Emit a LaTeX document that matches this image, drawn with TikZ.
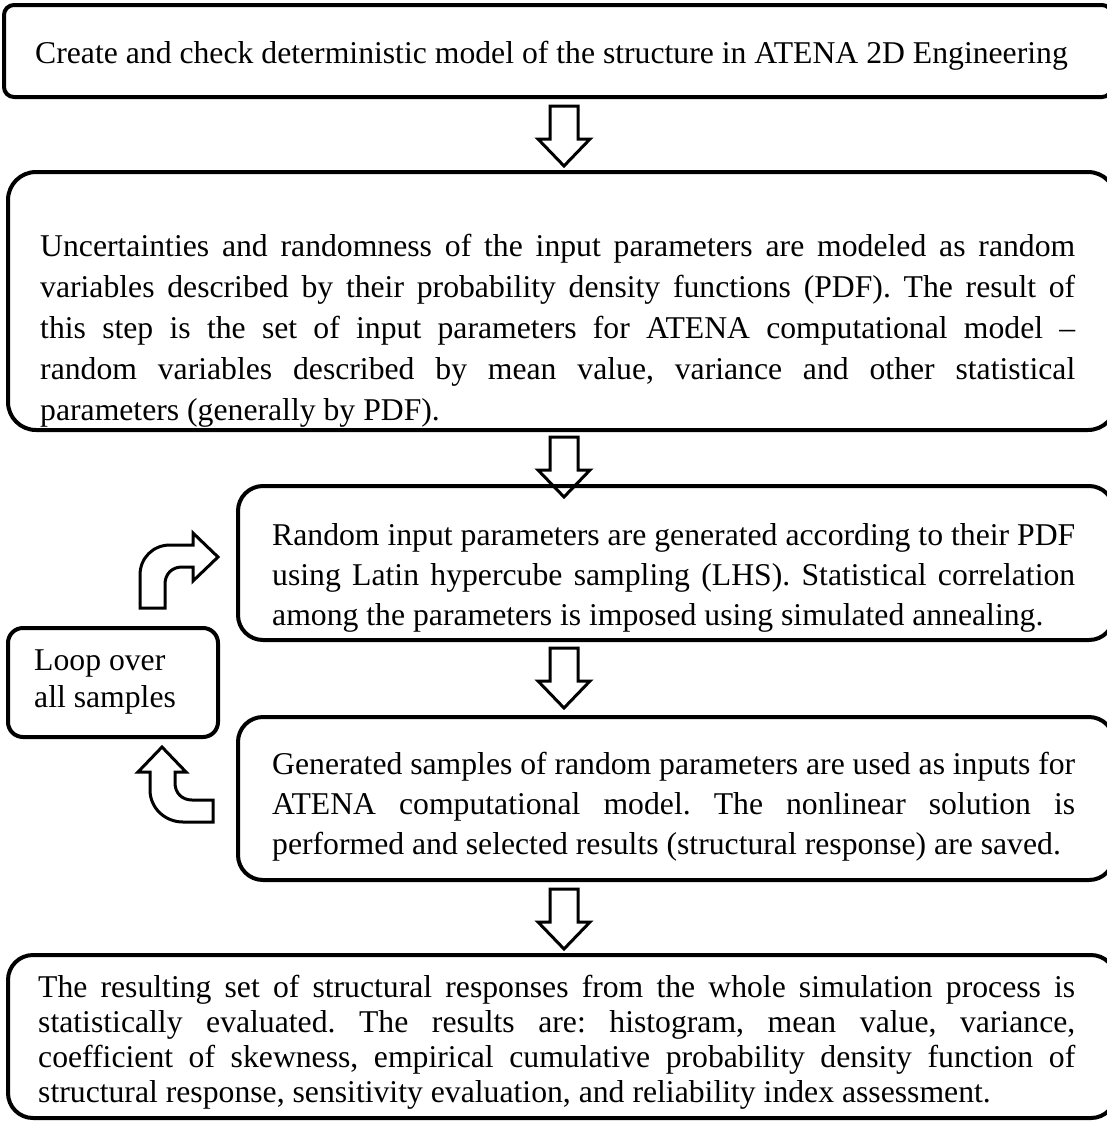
\documentclass[tikz,border=0pt]{standalone}
\usepackage{fontspec}
\setmainfont{Liberation Serif}
\frenchspacing
\tikzset{
  box/.style={line width=4pt, rounded corners=25pt},
  blockarrow/.style={line width=3pt, line join=miter},
  boxtext/.style={anchor=north west, inner sep=0pt, align=justify,
    font=\fontsize{31.7}{41}\selectfont},
  downarrow/.pic={
    \draw[blockarrow] (-14,0) -- (-14,33) -- (-26,33) -- (0,60) -- (26,33)
      -- (14,33) -- (14,0) -- cycle;
  }
}

\begin{document}
\begin{tikzpicture}[x=1pt,y=-1pt]
  \useasboundingbox (0,0) rectangle (1107,1122);
  % steps of the procedure
  \draw[box, rounded corners=10pt] (4,5) rectangle (1112,97);
  \node[boxtext, anchor=base west] (model) at (35,63)
    {Create and check deterministic model of the structure in ATENA 2D Engineering};
  \pic at (564,106) {downarrow};
  \draw[box, rounded corners=28pt] (8,172) rectangle (1116,430);
  \node[boxtext, text width=1035] (input) at (40,234)
    {Uncertainties and randomness of the input parameters are modeled as random\linebreak
     variables described by their probability density functions (PDF). The result of\linebreak
     this step is the set of input parameters for ATENA computational model --\linebreak
     random variables described by mean value, variance and other statistical\linebreak
     parameters (generally by PDF).};
  \pic at (564,437) {downarrow};
  \draw[box] (238,486) rectangle (1114,640);
  \node[boxtext, text width=803, font=\fontsize{31.7}{40}\selectfont] (lhs) at (272,523)
    {Random input parameters are generated according to their PDF\linebreak
     using Latin hypercube sampling (LHS). Statistical correlation\linebreak
     among the parameters is imposed using simulated annealing.};
  \pic at (564,648) {downarrow};
  \draw[box] (238,717) rectangle (1114,880);
  \node[boxtext, text width=803, font=\fontsize{31.7}{40}\selectfont] (solve) at (272,752)
    {Generated samples of random parameters are used as inputs for\linebreak
     ATENA computational model. The nonlinear solution is\linebreak
     performed and selected results (structural response) are saved.};
  \pic at (564,889) {downarrow};
  \draw[box] (8,955) rectangle (1116,1118);
  \node[boxtext, text width=1037, font=\fontsize{31.7}{35}\selectfont] (stats) at (38,975)
    {The resulting set of structural responses from the whole simulation process is\linebreak
     statistically evaluated. The results are: histogram, mean value, variance,\linebreak
     coefficient of skewness, empirical cumulative probability density function of\linebreak
     structural response, sensitivity evaluation, and reliability index assessment.};
  % loop
  \draw[box, rounded corners=15pt] (8,628) rectangle (218,737);
  \node[boxtext, align=left, font=\fontsize{31.7}{37}\selectfont] (loop) at (34,650)
    {Loop over\\all samples};
  \draw[blockarrow] (140,608) -- (140,575) .. controls (140,558) and (153,545) .. (170,545)
    -- (193,545) -- (193,533) -- (218,557) -- (193,581) -- (193,567) -- (182,567)
    .. controls (172,567) and (165,574) .. (165,584) -- (165,608) -- cycle;
  \draw[blockarrow] (213,800) -- (192,800) .. controls (182,800) and (175,793) .. (175,783)
    -- (175,772) -- (186,772) -- (162,747) -- (138,772) -- (150,772) -- (150,790)
    .. controls (150,808) and (165,822) .. (183,822) -- (213,822) -- cycle;
\end{tikzpicture}
\end{document}
